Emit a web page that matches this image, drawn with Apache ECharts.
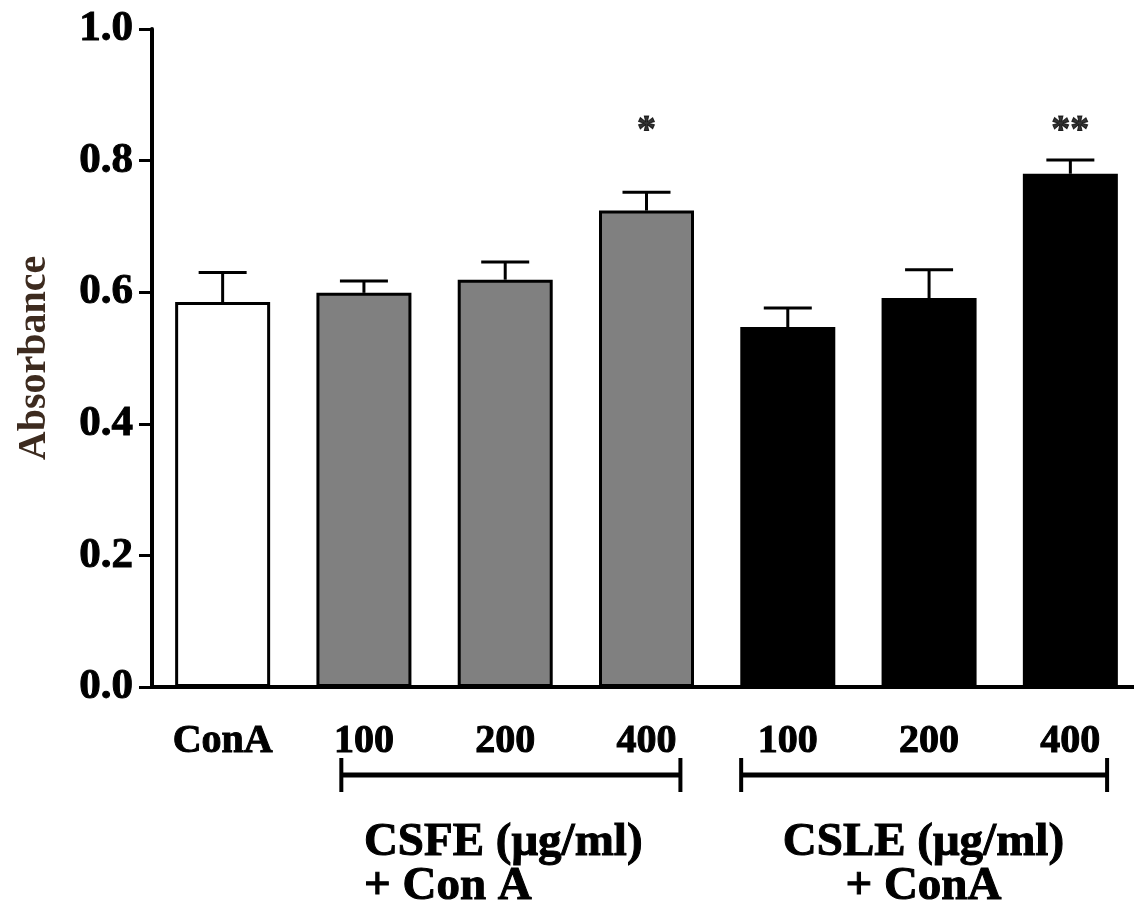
<!DOCTYPE html>
<html>
<head>
<meta charset="utf-8">
<script src="https://cdn.jsdelivr.net/npm/echarts@6/dist/echarts.min.js"></script>
<style>
  html, body { margin: 0; padding: 0; background: #fff; }
  #box { width: 1134px; height: 905px; }
</style>
</head>
<body>
<div id="box"></div>
<script>
// data
var categories = ['ConA', '100', '200', '400', '100', '200', '400'];
var means = [0.585, 0.599, 0.619, 0.724, 0.547, 0.591, 0.780];
var errors = [0.045, 0.018, 0.027, 0.028, 0.029, 0.043, 0.021];
var stars = ['', '', '', '*', '', '', '**'];
// group brackets: [from, to, text position, caption]
var groupFrom = [0.84, 3.67];
var groupTo = [3.24, 6.26];
var groupTextAt = [1.0, 4.96];
var groupCaption = ['CSFE (\u03bcg/ml)\n+ Con A', 'CSLE (\u03bcg/ml)\n+ ConA'];

var barColors = ['#ffffff', '#808080', '#808080', '#808080', '#000000', '#000000', '#000000'];
var font = "'Liberation Serif', 'Times New Roman', serif";

var chart = echarts.init(document.getElementById('box'));

var option = {
  animation: false,
  backgroundColor: '#fff',
  grid: { left: 152, top: 29, width: 989, height: 658, outerBoundsMode: 'none', containLabel: false },
  xAxis: [
    {
      type: 'category',
      data: categories,
      axisLine: { lineStyle: { color: '#000', width: 4 } },
      axisTick: { alignWithLabel: true, length: 13, lineStyle: { color: '#000', width: 3 } },
      axisLabel: {
        interval: 0,
        margin: 35,
        color: '#000',
        fontFamily: font,
        fontWeight: 'bold',
        fontSize: 40,
        lineHeight: 40,
        textBorderColor: '#000',
        textBorderWidth: 1
      }
    },
    { type: 'value', min: -0.5, max: 6.5, show: false }
  ],
  yAxis: {
    type: 'value',
    min: 0,
    max: 1.0,
    interval: 0.2,
    name: 'Absorbance',
    nameLocation: 'middle',
    nameRotate: 90,
    nameGap: 97,
    nameTextStyle: { color: '#3d2b1f', fontFamily: font, fontWeight: 'bold', fontSize: 40 },
    axisLine: { show: true, onZero: false, lineStyle: { color: '#000', width: 4 } },
    axisTick: { show: true, length: 13, lineStyle: { color: '#000', width: 3 } },
    splitLine: { show: false },
    axisLabel: {
      margin: 19,
      color: '#000',
      fontFamily: font,
      fontWeight: 'bold',
      fontSize: 43,
      textBorderColor: '#000',
      textBorderWidth: 1,
      formatter: function (v) { return v.toFixed(1); }
    }
  },
  series: [
    {
      type: 'bar',
      barWidth: 95,
      z: 2,
      data: means.map(function (v, i) {
        return { value: v, itemStyle: { color: barColors[i] } };
      }),
      itemStyle: { borderColor: '#000', borderWidth: 3 }
    },
    {
      type: 'custom',
      z: 3,
      data: means.map(function (v, i) { return [i, v, errors[i]]; }),
      renderItem: function (params, api) {
        var x = api.value(0), m = api.value(1), e = api.value(2);
        var p0 = api.coord([x, m]);
        var p1 = api.coord([x, m + e]);
        var st = { stroke: '#000', lineWidth: 3 };
        return {
          type: 'group',
          children: [
            { type: 'line', shape: { x1: p0[0], y1: p0[1], x2: p1[0], y2: p1[1] }, style: st },
            { type: 'line', shape: { x1: p1[0] - 24, y1: p1[1], x2: p1[0] + 24, y2: p1[1] }, style: st }
          ]
        };
      }
    },
    {
      type: 'scatter',
      symbolSize: 0,
      silent: true,
      z: 4,
      data: stars.map(function (s, i) { return [i, 0.845]; }),
      itemStyle: { color: '#000' },
      label: {
        show: true,
        position: 'inside',
        color: '#000',
        fontFamily: font,
        fontWeight: 'bold',
        fontSize: 38,
        textBorderColor: '#000',
        textBorderWidth: 1,
        formatter: function (p) { return stars[p.dataIndex]; }
      }
    },
    {
      type: 'custom',
      xAxisIndex: 1,
      clip: false,
      silent: true,
      data: groupFrom.map(function (f, i) { return [f, groupTo[i], groupTextAt[i], i]; }),
      renderItem: function (params, api) {
        var a = api.coord([api.value(0), 0]);
        var b = api.coord([api.value(1), 0]);
        var t = api.coord([api.value(2), 0]);
        var i = api.value(3);
        var y = a[1] + 88;
        var st = { stroke: '#000', lineWidth: 5 };
        return {
          type: 'group',
          children: [
            { type: 'line', shape: { x1: a[0], y1: y, x2: b[0], y2: y }, style: st },
            { type: 'line', shape: { x1: a[0], y1: y - 17, x2: a[0], y2: y + 17 }, style: { stroke: '#000', lineWidth: 4 } },
            { type: 'line', shape: { x1: b[0], y1: y - 17, x2: b[0], y2: y + 17 }, style: { stroke: '#000', lineWidth: 4 } },
            {
              type: 'text',
              x: t[0],
              y: y + 46,
              style: {
                text: groupCaption[i],
                fill: '#000',
                stroke: '#000',
                lineWidth: 1,
                font: 'bold 47px ' + font,
                lineHeight: 44,
                align: i === 0 ? 'left' : 'center',
                verticalAlign: 'top'
              }
            }
          ]
        };
      }
    }
  ]
};

chart.setOption(option);
</script>
</body>
</html>
